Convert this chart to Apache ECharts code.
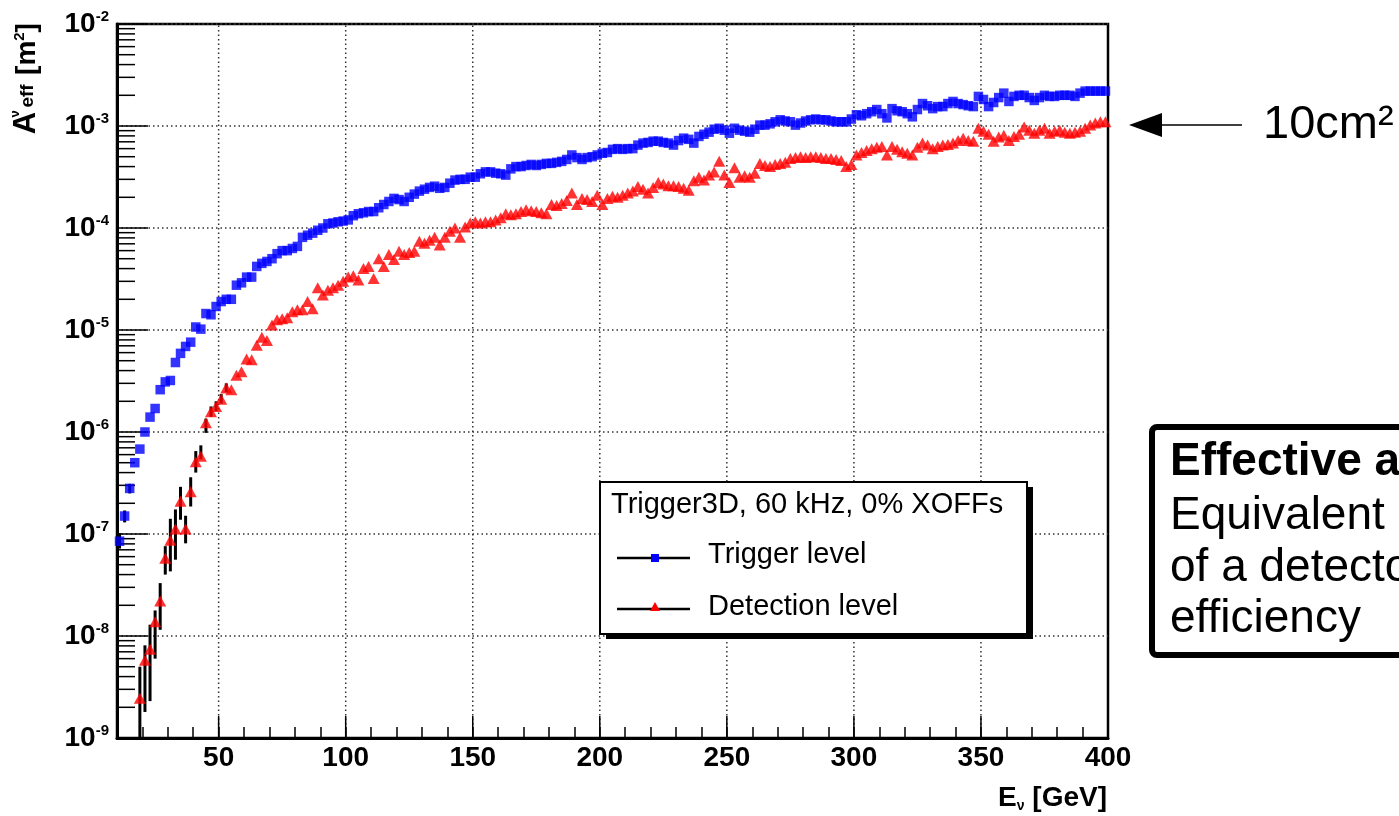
<!DOCTYPE html>
<html><head><meta charset="utf-8">
<script src="https://cdn.jsdelivr.net/npm/echarts@6/dist/echarts.min.js"></script>
<style>html,body{margin:0;padding:0;background:#fff;}#c{width:1399px;height:816px;}</style>
</head><body><div id="c"></div>
<script>
// ---- data (2 GeV histogram bins) ----
const binWidth = 2;
const firstTriggerBin = 11;    // GeV, centre of first Trigger-level bin
const firstDetectionBin = 19;  // GeV, centre of first Detection-level bin

const triggerLevel = [
  8.5e-8, 1.5e-7, 2.8e-7, 5.0e-7, 6.8e-7, 1.0e-6, 1.4e-6, 1.7e-6, 2.6e-6, 3.1e-6,
  3.2e-6, 4.8e-6, 5.9e-6, 6.9e-6, 7.6e-6, 1.07e-5, 1.02e-5, 1.45e-5, 1.41e-5, 1.7e-5,
  1.9e-5, 2.0e-5, 2.0e-5, 2.75e-5, 2.9e-5, 3.3e-5, 3.3e-5, 4.2e-5, 4.5e-5, 4.7e-5,
  5.0e-5, 5.6e-5, 6.0e-5, 6.0e-5, 6.3e-5, 6.6e-5, 8.1e-5, 8.5e-5, 8.9e-5, 9.5e-5,
  1.0e-4, 1.1e-4, 1.12e-4, 1.15e-4, 1.17e-4, 1.2e-4, 1.32e-4, 1.38e-4, 1.41e-4, 1.45e-4,
  1.45e-4, 1.58e-4, 1.7e-4, 1.82e-4, 1.95e-4, 1.9e-4, 1.82e-4, 2.0e-4, 2.15e-4, 2.3e-4,
  2.4e-4, 2.5e-4, 2.57e-4, 2.45e-4, 2.5e-4, 2.75e-4, 2.95e-4, 3.0e-4, 3.0e-4, 3.15e-4,
  3.15e-4, 3.4e-4, 3.55e-4, 3.55e-4, 3.45e-4, 3.4e-4, 3.3e-4, 3.8e-4, 4.0e-4, 4.0e-4,
  4.1e-4, 4.2e-4, 4.1e-4, 4.2e-4, 4.3e-4, 4.3e-4, 4.4e-4, 4.5e-4, 4.7e-4, 5.2e-4,
  4.9e-4, 4.7e-4, 4.9e-4, 5.0e-4, 5.2e-4, 5.4e-4, 5.5e-4, 5.9e-4, 6.0e-4, 5.9e-4,
  6.0e-4, 6.0e-4, 6.5e-4, 6.8e-4, 6.9e-4, 7.1e-4, 7.1e-4, 6.9e-4, 6.8e-4, 6.5e-4,
  7.2e-4, 7.6e-4, 7.4e-4, 6.8e-4, 7.9e-4, 8.3e-4, 8.7e-4, 9.3e-4, 9.5e-4, 9.1e-4,
  8.5e-4, 9.5e-4, 9.1e-4, 8.9e-4, 8.7e-4, 9.3e-4, 1.02e-3, 1.02e-3, 1.05e-3, 1.1e-3,
  1.15e-3, 1.12e-3, 1.1e-3, 1.02e-3, 1.07e-3, 1.12e-3, 1.15e-3, 1.17e-3, 1.15e-3, 1.15e-3,
  1.12e-3, 1.1e-3, 1.1e-3, 1.1e-3, 1.17e-3, 1.29e-3, 1.26e-3, 1.32e-3, 1.38e-3, 1.45e-3,
  1.32e-3, 1.2e-3, 1.48e-3, 1.41e-3, 1.38e-3, 1.32e-3, 1.23e-3, 1.45e-3, 1.66e-3, 1.58e-3,
  1.48e-3, 1.55e-3, 1.55e-3, 1.66e-3, 1.74e-3, 1.66e-3, 1.62e-3, 1.58e-3, 1.55e-3, 1.95e-3,
  1.82e-3, 1.55e-3, 1.7e-3, 1.9e-3, 2.1e-3, 1.74e-3, 1.95e-3, 2.0e-3, 2.0e-3, 1.9e-3,
  1.78e-3, 1.9e-3, 2.0e-3, 1.95e-3, 1.95e-3, 2.0e-3, 2.0e-3, 2.0e-3, 1.95e-3, 2.1e-3,
  2.2e-3, 2.2e-3, 2.2e-3, 2.2e-3, 2.2e-3
];
const triggerErrLow  = [7.2e-8, 1.3e-7, 2.5e-7];
const triggerErrHigh = [1.02e-7, 1.7e-7, 3.1e-7];

const detectionLevel = [
  2.45e-9, 5.8e-9, 7.4e-9, 1.38e-8, 2.2e-8, 5.8e-8, 8.7e-8, 1.12e-7, 2.1e-7, 1.12e-7,
  2.6e-7, 5.1e-7, 5.8e-7, 1.23e-6, 1.58e-6, 1.78e-6, 2.1e-6, 2.7e-6, 2.6e-6, 3.6e-6,
  3.9e-6, 5.2e-6, 5.1e-6, 7.1e-6, 8.5e-6, 7.9e-6, 1.12e-5, 1.26e-5, 1.29e-5, 1.32e-5,
  1.51e-5, 1.58e-5, 1.58e-5, 1.9e-5, 1.62e-5, 2.6e-5, 2.2e-5, 2.45e-5, 2.6e-5, 2.75e-5,
  3.0e-5, 3.3e-5, 3.4e-5, 3.1e-5, 4.0e-5, 4.2e-5, 3.2e-5, 5.0e-5, 4.2e-5, 5.5e-5,
  4.9e-5, 5.9e-5, 5.5e-5, 5.75e-5, 5.9e-5, 7.4e-5, 7.1e-5, 7.6e-5, 8.1e-5, 6.8e-5,
  8.1e-5, 9.3e-5, 1.0e-4, 8.1e-5, 1.02e-4, 1.12e-4, 1.15e-4, 1.12e-4, 1.15e-4, 1.15e-4,
  1.2e-4, 1.26e-4, 1.38e-4, 1.35e-4, 1.38e-4, 1.45e-4, 1.51e-4, 1.48e-4, 1.45e-4, 1.41e-4,
  1.38e-4, 1.7e-4, 1.66e-4, 1.74e-4, 1.86e-4, 2.2e-4, 1.7e-4, 1.95e-4, 1.9e-4, 1.82e-4,
  2.1e-4, 1.7e-4, 1.95e-4, 2.05e-4, 2.0e-4, 2.1e-4, 2.2e-4, 2.3e-4, 2.55e-4, 2.4e-4,
  2.2e-4, 2.5e-4, 2.8e-4, 2.7e-4, 2.6e-4, 2.6e-4, 2.55e-4, 2.45e-4, 2.35e-4, 2.9e-4,
  3.15e-4, 2.95e-4, 3.3e-4, 3.55e-4, 4.5e-4, 3.3e-4, 2.8e-4, 3.9e-4, 3.15e-4, 3.25e-4,
  3.15e-4, 3.45e-4, 4.3e-4, 4.1e-4, 4.0e-4, 4.2e-4, 4.3e-4, 4.4e-4, 4.8e-4, 4.9e-4,
  5.0e-4, 4.9e-4, 5.0e-4, 5.0e-4, 4.9e-4, 4.8e-4, 4.8e-4, 4.7e-4, 4.6e-4, 4.0e-4,
  4.2e-4, 5.2e-4, 5.5e-4, 5.75e-4, 6.0e-4, 6.2e-4, 6.3e-4, 5.2e-4, 6.3e-4, 5.9e-4,
  5.6e-4, 5.4e-4, 5.2e-4, 6.2e-4, 6.8e-4, 6.5e-4, 6.0e-4, 6.3e-4, 6.5e-4, 6.6e-4,
  6.8e-4, 7.2e-4, 7.6e-4, 7.2e-4, 7.1e-4, 9.5e-4, 8.9e-4, 8.3e-4, 7.1e-4, 7.8e-4,
  8.1e-4, 7.2e-4, 7.9e-4, 8.3e-4, 9.8e-4, 9.1e-4, 8.5e-4, 9.1e-4, 9.5e-4, 8.5e-4,
  8.9e-4, 9.1e-4, 8.7e-4, 8.5e-4, 8.7e-4, 8.9e-4, 9.5e-4, 1.02e-3, 1.07e-3, 1.1e-3,
  1.1e-3
];
const detectionErrLow  = [5e-10, 1.8e-9, 2.3e-9, 6.0e-9, 1.15e-8, 4.0e-8, 4.3e-8, 5.6e-8, 1.38e-7, 8.1e-8, 1.86e-7, 4.0e-7, 5.4e-7, 9.8e-7, 1.41e-6, 1.6e-6, 1.9e-6, 2.45e-6];
const detectionErrHigh = [5.0e-9, 8.1e-9, 1.29e-8, 1.78e-8, 3.3e-8, 7.6e-8, 1.41e-7, 1.74e-7, 2.9e-7, 1.51e-7, 3.6e-7, 6.5e-7, 7.4e-7, 1.35e-6, 1.78e-6, 2.0e-6, 2.35e-6, 3.0e-6];

const xTickLabels = [50, 100, 150, 200, 250, 300, 350, 400];
const yDecadeExponents = [-9, -8, -7, -6, -5, -4, -3, -2];
const legendTitle = 'Trigger3D, 60 kHz, 0% XOFFs';
const seriesNames = ['Trigger level', 'Detection level'];

// ---- build ----
const FONT = '"Liberation Sans", Arial, Helvetica, sans-serif';
const binCentre = (first, i) => first + binWidth * i;
const triggerData = triggerLevel.map((v, i) => [binCentre(firstTriggerBin, i), v]);
const detectionData = detectionLevel.map((v, i) => [binCentre(firstDetectionBin, i), v]);
const errData = [];
triggerErrLow.forEach((lo, i) => errData.push([binCentre(firstTriggerBin, i), lo, triggerErrHigh[i]]));
detectionErrLow.forEach((lo, i) => errData.push([binCentre(firstDetectionBin, i), lo, detectionErrHigh[i]]));

const yMinorTicks = [];
yDecadeExponents.slice(0, -1).forEach(k => { for (let m = 2; m <= 9; m++) yMinorTicks.push([10, m * Math.pow(10, k)]); });
const xGridTicks = xTickLabels.slice(0, -1).map(v => [v, 1e-9]);

const chart = echarts.init(document.getElementById('c'), null, {renderer: 'canvas'});

function txt(text, x, y, size, o) {
  o = o || {};
  return {type: 'text', x: x, y: y, rotation: o.rotation || 0, silent: true, z: 100,
    style: {text: text, x: 0, y: 0, fontSize: size, fontWeight: o.bold ? 'bold' : 'normal', fontFamily: FONT, fill: '#000',
      align: o.align || 'left', verticalAlign: o.va || 'middle', rich: o.rich}};
}

const graphics = [
  // legend box
  {type: 'rect', z: 90, silent: true, shape: {x: 606, y: 487, width: 427, height: 152}, style: {fill: '#000'}},
  {type: 'rect', z: 91, silent: true, shape: {x: 600, y: 482, width: 427, height: 152}, style: {fill: '#fff', stroke: '#000', lineWidth: 2}},
  txt(legendTitle, 611, 505, 29),
  {type: 'line', z: 95, silent: true, shape: {x1: 617, y1: 558, x2: 690, y2: 558}, style: {stroke: '#000', lineWidth: 2.5}},
  {type: 'rect', z: 96, silent: true, shape: {x: 651, y: 554, width: 8, height: 8}, style: {fill: '#0000ff'}},
  txt(seriesNames[0], 708, 555, 29),
  {type: 'line', z: 95, silent: true, shape: {x1: 617, y1: 609, x2: 690, y2: 609}, style: {stroke: '#000', lineWidth: 2.5}},
  {type: 'polygon', z: 96, silent: true, shape: {points: [[655, 602], [660, 611], [650, 611]]}, style: {fill: '#ff0000'}},
  txt(seriesNames[1], 708, 607, 29),
  // axis titles
  txt('A', 26, 123, 31, {bold: true, align: 'center', rotation: Math.PI / 2}),
  txt('ν', 15, 114, 13, {bold: true, align: 'center', rotation: Math.PI / 2}),
  txt('eff', 28, 96, 19, {bold: true, align: 'center', rotation: Math.PI / 2}),
  txt('{t|[m}{s|2}{t|]}', 27, 49, 28, {bold: true, align: 'center', rotation: Math.PI / 2,
    rich: {t: {fontSize: 28, fontWeight: 'bold', fontFamily: FONT, lineHeight: 30},
           s: {fontSize: 15, fontWeight: 'bold', fontFamily: FONT, lineHeight: 14, verticalAlign: 'top'}}}),
  txt('{e|E}{n|ν}{g| [GeV]}', 1107, 798, 28, {bold: true, align: 'right',
    rich: {e: {fontSize: 28, fontWeight: 'bold', fontFamily: FONT, lineHeight: 30},
           n: {fontSize: 14, fontWeight: 'bold', fontFamily: FONT, lineHeight: 8, verticalAlign: 'bottom'},
           g: {fontSize: 28, fontWeight: 'bold', fontFamily: FONT, lineHeight: 30}}}),
  // 10 cm² annotation
  {type: 'line', z: 95, silent: true, shape: {x1: 1160, y1: 125, x2: 1242, y2: 125}, style: {stroke: '#000', lineWidth: 1.5}},
  {type: 'polygon', z: 96, silent: true, shape: {points: [[1129, 125], [1162, 113], [1162, 137]]}, style: {fill: '#000'}},
  txt('10cm²', 1263, 125, 47),
  // Effective area box
  {type: 'rect', z: 90, silent: true, shape: {x: 1152, y: 427, width: 320, height: 228, r: 5}, style: {fill: '#fff', stroke: '#000', lineWidth: 6}},
  txt('Effective area:', 1170, 462, 46, {bold: true}),
  txt('Equivalent area', 1170, 516, 46),
  txt('of a detector with 100%', 1170, 568, 46),
  txt('efficiency', 1170, 619, 46)
];

const option = {
  animation: false,
  backgroundColor: '#fff',
  grid: {left: 117, right: 291, top: 24, bottom: 78, show: true, borderColor: '#000', borderWidth: 2.5, backgroundColor: 'transparent'},
  xAxis: {
    type: 'value', min: 10, max: 400, interval: 10,
    axisLine: {show: true, onZero: false, lineStyle: {color: '#000', width: 3}},
    axisTick: {show: true, inside: true, length: 11, lineStyle: {color: '#000', width: 1.5}},
    axisLabel: {formatter: v => (xTickLabels.indexOf(v) >= 0 ? String(v) : ''), fontFamily: FONT, fontSize: 28, fontWeight: 'bold', color: '#000', margin: 6},
    splitLine: {show: false}
  },
  yAxis: {
    type: 'log', logBase: 10, min: 1e-9, max: 1e-2,
    axisLine: {show: true, onZero: false, lineStyle: {color: '#000', width: 3}},
    axisTick: {show: true, inside: true, length: 31, lineStyle: {color: '#000', width: 1.5}},
    axisLabel: {
      formatter: v => '{b|10}{s|' + Math.round(Math.log10(v)) + '}',
      margin: 8,
      rich: {b: {fontSize: 28, fontWeight: 'bold', fontFamily: FONT, color: '#000', lineHeight: 30},
             s: {fontSize: 15, fontWeight: 'bold', fontFamily: FONT, color: '#000', lineHeight: 14, verticalAlign: 'top'}}
    },
    splitLine: {show: true, lineStyle: {color: '#333', width: 1.5, type: [1.5, 3]}}
  },
  series: [
    {type: 'custom', name: 'xgrid', silent: true, z: 1, data: xGridTicks,
      renderItem: (params, api) => {
        const b = api.coord([api.value(0), 1e-9]);
        const t = api.coord([api.value(0), 1e-2]);
        return {type: 'group', children: [
          {type: 'line', shape: {x1: b[0], y1: b[1], x2: t[0], y2: t[1]}, style: {stroke: '#333', lineWidth: 1.5, lineDash: [1.5, 3]}},
          {type: 'line', shape: {x1: b[0], y1: b[1], x2: b[0], y2: b[1] - 22}, style: {stroke: '#000', lineWidth: 1.5}}
        ]};
      }},
    {type: 'custom', name: 'yminor', silent: true, z: 2, data: yMinorTicks,
      renderItem: (params, api) => {
        const p = api.coord([api.value(0), api.value(1)]);
        return {type: 'line', shape: {x1: p[0], y1: p[1], x2: p[0] + 18, y2: p[1]}, style: {stroke: '#000', lineWidth: 1.5}};
      }},
    {type: 'custom', name: 'errors', silent: true, z: 3, data: errData,
      renderItem: (params, api) => {
        const cs = params.coordSys;
        const a = api.coord([api.value(0), api.value(1)]);
        const b = api.coord([api.value(0), api.value(2)]);
        const yb = Math.min(a[1], cs.y + cs.height);
        return {type: 'line', shape: {x1: a[0], y1: yb, x2: b[0], y2: b[1]}, style: {stroke: '#000', lineWidth: 3}};
      }},
    {type: 'scatter', name: seriesNames[0], z: 5, data: triggerData, symbol: 'rect', symbolSize: 9.5, itemStyle: {color: '#0000ff'}},
    {type: 'scatter', name: seriesNames[1], z: 5, data: detectionData, symbol: 'triangle', symbolSize: [12, 11], itemStyle: {color: '#ff0000'}}
  ],
  graphic: graphics
};
chart.setOption(option);
</script>
</body></html>
